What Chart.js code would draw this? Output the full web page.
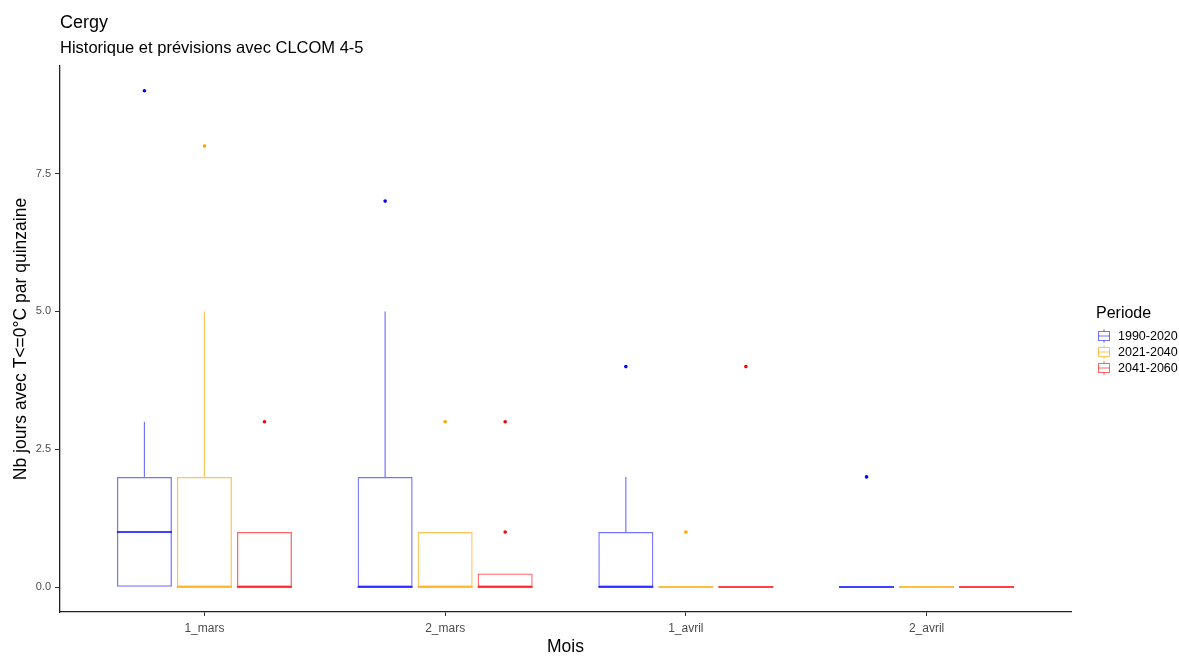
<!DOCTYPE html>
<html>
<head>
<meta charset="utf-8">
<title>Cergy</title>
<script src="https://cdn.jsdelivr.net/npm/chart.js@4/dist/chart.umd.min.js"></script>
<style>
    body { margin: 0; background: #fff; }
    #wrap { position: relative; width: 1179px; height: 671px; }
</style>
</head>
<body>
<div id="wrap"><canvas id="boxChart"></canvas></div>
<script>
// months on the x axis (ggplot positions 1..4)
const months = ['1_mars', '2_mars', '1_avril', '2_avril'];
const periods = ['1990-2020', '2021-2040', '2041-2060'];
const periodColors = ['#0000FF', '#FFA500', '#FF0000'];
const periodFaded = ['rgba(0,0,255,0.55)', 'rgba(255,165,0,0.65)', 'rgba(255,0,0,0.6)'];
const yTicks = [0, 2.5, 5, 7.5];

// 1990-2020
const low1990 = [0, 0, 0, 0];
const q1_1990 = [0, 0, 0, 0];
const med1990 = [1, 0, 0, 0];
const q3_1990 = [2, 2, 1, 0];
const high1990 = [3, 5, 2, 0];
const out1990 = [[9], [7], [4], [2]];

// 2021-2040
const low2021 = [0, 0, 0, 0];
const q1_2021 = [0, 0, 0, 0];
const med2021 = [0, 0, 0, 0];
const q3_2021 = [2, 1, 0, 0];
const high2021 = [5, 1, 0, 0];
const out2021 = [[8], [3], [1], []];

// 2041-2060
const low2041 = [0, 0, 0, 0];
const q1_2041 = [0, 0, 0, 0];
const med2041 = [0, 0, 0, 0];
const q3_2041 = [1, 0.25, 0, 0];
const high2041 = [1, 0.25, 0, 0];
const out2041 = [[3], [1, 3], [4], []];

const stats = [
    { low: low1990, q1: q1_1990, med: med1990, q3: q3_1990, high: high1990, out: out1990 },
    { low: low2021, q1: q1_2021, med: med2021, q3: q3_2021, high: high2021, out: out2021 },
    { low: low2041, q1: q1_2041, med: med2041, q3: q3_2041, high: high2041, out: out2041 }
];

const FONT = 'Liberation Sans, Arial, Helvetica, sans-serif';
Chart.defaults.font.family = FONT;

// median, whiskers and outliers on top of the floating bars
const boxExtras = {
    id: 'boxExtras',
    afterDatasetsDraw(chart) {
        const ctx = chart.ctx;
        const y = chart.scales.y;
        ctx.save();
        stats.forEach((s, d) => {
            const meta = chart.getDatasetMeta(d);
            meta.data.forEach((bar, i) => {
                const x = bar.x;
                const half = bar.width / 2;
                ctx.strokeStyle = periodFaded[d];
                ctx.lineWidth = 1.2;
                ctx.beginPath();
                if (s.high[i] > s.q3[i]) {
                    ctx.moveTo(x, y.getPixelForValue(s.q3[i]));
                    ctx.lineTo(x, y.getPixelForValue(s.high[i]));
                }
                if (s.low[i] < s.q1[i]) {
                    ctx.moveTo(x, y.getPixelForValue(s.q1[i]));
                    ctx.lineTo(x, y.getPixelForValue(s.low[i]));
                }
                ctx.stroke();

                const my = Math.round(y.getPixelForValue(s.med[i]));
                ctx.strokeStyle = periodColors[d];
                ctx.globalAlpha = 0.75;
                ctx.lineWidth = 2;
                ctx.beginPath();
                ctx.moveTo(x - half, my);
                ctx.lineTo(x + half, my);
                ctx.stroke();
                ctx.globalAlpha = 1;

                ctx.fillStyle = periodColors[d];
                s.out[i].forEach(v => {
                    ctx.beginPath();
                    ctx.arc(x, y.getPixelForValue(v), 1.8, 0, Math.PI * 2);
                    ctx.fill();
                });
            });
        });
        ctx.restore();
    }
};

// title, subtitle and legend in the ggplot places
const decorations = {
    id: 'decorations',
    afterDraw(chart) {
        const ctx = chart.ctx;
        ctx.save();
        ctx.fillStyle = '#000';
        ctx.textBaseline = 'alphabetic';
        ctx.textAlign = 'left';
        ctx.font = '18px ' + FONT;
        ctx.fillText('Cergy', 60, 28);
        ctx.font = '16.5px ' + FONT;
        ctx.fillText('Historique et prévisions avec CLCOM 4-5', 60, 53);

        ctx.font = '16px ' + FONT;
        ctx.fillText('Periode', 1096, 318);
        ctx.font = '12.5px ' + FONT;
        periods.forEach((p, k) => {
            const cy = 336 + k * 16;
            const cx = 1104;
            ctx.strokeStyle = periodFaded[k];
            ctx.lineWidth = 1;
            ctx.strokeRect(cx - 5.5, cy - 4.5, 11, 9);
            ctx.beginPath();
            ctx.moveTo(cx, cy - 7);
            ctx.lineTo(cx, cy - 4.5);
            ctx.moveTo(cx, cy + 4.5);
            ctx.lineTo(cx, cy + 7);
            ctx.moveTo(cx - 5.5, cy);
            ctx.lineTo(cx + 5.5, cy);
            ctx.stroke();
            ctx.fillStyle = '#000';
            ctx.textBaseline = 'middle';
            ctx.fillText(p, 1118, cy + 1);
        });
        ctx.restore();
    }
};

const datasets = periods.map((p, d) => ({
    label: p,
    data: months.map((m, i) => ({ x: i + 1, y: [stats[d].q1[i], stats[d].q3[i]] })),
    backgroundColor: 'rgba(255,255,255,0)',
    borderColor: periodFaded[d],
    borderWidth: 1.3,
    borderSkipped: false,
    categoryPercentage: 0.748,
    barPercentage: 0.917
}));

new Chart(document.getElementById('boxChart'), {
    type: 'bar',
    data: { datasets },
    options: {
        responsive: true,
        maintainAspectRatio: false,
        animation: false,
        layout: { padding: { top: 66, right: 108, left: 0, bottom: 0 } },
        plugins: {
            legend: { display: false },
            tooltip: { enabled: false }
        },
        scales: {
            x: {
                type: 'linear',
                min: 0.4,
                max: 4.6,
                offset: false,
                afterBuildTicks: scale => {
                    scale.ticks = months.map((m, i) => ({ value: i + 1 }));
                },
                afterFit: scale => { scale.height = 59; },
                ticks: {
                    callback: v => months[v - 1],
                    color: '#4D4D4D',
                    font: { size: 12 },
                    padding: 5,
                    maxRotation: 0
                },
                grid: { offset: false, drawOnChartArea: false, drawTicks: true, tickLength: 4, tickColor: '#333' },
                border: { display: true, color: '#222', width: 1.3 },
                title: {
                    display: true,
                    text: 'Mois',
                    color: '#000',
                    font: { size: 17.5 },
                    padding: { top: 0, bottom: 13 }
                }
            },
            y: {
                min: -0.45,
                max: 9.45,
                afterBuildTicks: scale => {
                    scale.ticks = yTicks.map(v => ({ value: v }));
                },
                afterFit: scale => { scale.width = 60; },
                ticks: {
                    callback: v => v.toFixed(1),
                    color: '#4D4D4D',
                    font: { size: 11 },
                    padding: 4
                },
                grid: { drawOnChartArea: false, drawTicks: true, tickLength: 5, tickColor: '#333' },
                border: { display: true, color: '#222', width: 1.3 },
                title: {
                    display: true,
                    text: 'Nb jours avec T<=0°C par quinzaine',
                    color: '#000',
                    font: { size: 17.5 },
                    padding: { top: 11, bottom: 0 }
                }
            }
        }
    },
    plugins: [boxExtras, decorations]
});
</script>
</body>
</html>
